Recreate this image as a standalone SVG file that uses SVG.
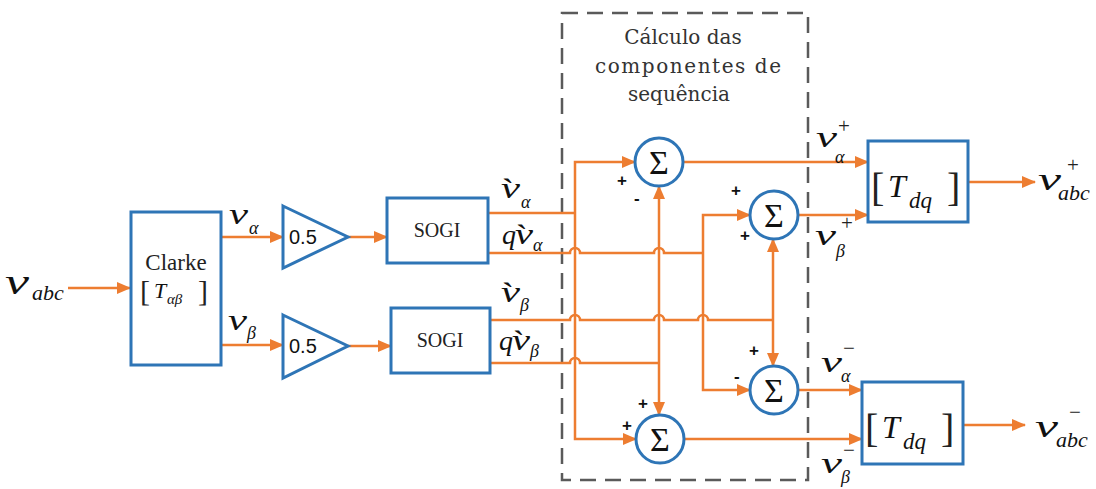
<svg xmlns="http://www.w3.org/2000/svg" width="1096" height="489" viewBox="0 0 1096 489">
<style>
.w{fill:none;stroke:#ED7D31;stroke-width:2.5}
.b{fill:#fff;stroke:#2E75B6;stroke-width:3}
.m{font-family:"Liberation Serif",serif;font-style:italic;fill:#111}
.t{font-family:"Liberation Serif",serif;fill:#222}
.s{font-family:"Liberation Sans",sans-serif;font-weight:bold;font-size:17px;fill:#111}
.sig{font-family:"Liberation Serif",serif;font-size:34px;fill:#111;text-anchor:middle}
</style>
<defs>
<marker id="ah" viewBox="0 0 14 12" refX="13" refY="6" markerWidth="14" markerHeight="12" markerUnits="userSpaceOnUse" orient="auto"><path d="M0,0 L14,6 L0,12 z" fill="#ED7D31"/></marker>
</defs>
<rect width="1096" height="489" fill="#fff"/>

<g id="box-sequence">
<rect x="562" y="13" width="246" height="467" fill="none" stroke="#5a5a5a" stroke-width="2.5" stroke-dasharray="16 9"/>
<text font-family="DejaVu Serif, serif" font-size="20" fill="#333" text-anchor="middle"><tspan x="683" y="44">Cálculo das</tspan><tspan x="688" y="73" textLength="186">componentes de</tspan><tspan x="679" y="101">sequência</tspan></text>
</g>

<g id="connectors">
<path class="w" marker-end="url(#ah)" d="M68,288 H130"/>
<path class="w" marker-end="url(#ah)" d="M222,237 H283"/>
<path class="w" marker-end="url(#ah)" d="M222,345 H283"/>
<path class="w" marker-end="url(#ah)" d="M348,237 H387"/>
<path class="w" marker-end="url(#ah)" d="M348,346 H391"/>
<path class="w" d="M488,213 H575"/>
<path class="w" d="M488,253 H570 a5,5 0 0 1 10,0 H654 a5,5 0 0 1 10,0 H703"/>
<path class="w" d="M490,320 H570 a5,5 0 0 1 10,0 H654 a5,5 0 0 1 10,0 H698 a5,5 0 0 1 10,0 H773"/>
<path class="w" d="M490,363 H570 a5,5 0 0 1 10,0 H659"/>
<path class="w" marker-end="url(#ah)" d="M575,213 V162 H635"/>
<path class="w" marker-end="url(#ah)" d="M575,213 V439 H636"/>
<path class="w" marker-end="url(#ah)" d="M659,363 V186"/>
<path class="w" marker-end="url(#ah)" d="M659,363 V415"/>
<path class="w" marker-end="url(#ah)" d="M703,253 V215 H750"/>
<path class="w" marker-end="url(#ah)" d="M703,253 V390 H750"/>
<path class="w" marker-end="url(#ah)" d="M773,320 V239"/>
<path class="w" marker-end="url(#ah)" d="M773,320 V366"/>
<path class="w" marker-end="url(#ah)" d="M683,162 H868"/>
<path class="w" marker-end="url(#ah)" d="M798,215 H868"/>
<path class="w" marker-end="url(#ah)" d="M798,390 H862"/>
<path class="w" marker-end="url(#ah)" d="M684,439 H862"/>
<path class="w" marker-end="url(#ah)" d="M968,182 H1035"/>
<path class="w" marker-end="url(#ah)" d="M963,425 H1025"/>
</g>

<g id="in-label">
<text class="m" x="5" y="294" font-size="36" textLength="24" lengthAdjust="spacingAndGlyphs">v</text>
<text class="m" x="32" y="300" font-size="22">abc</text>
</g>

<g id="clarke">
<rect class="b" x="131" y="212" width="90" height="153"/>
<text class="t" x="176" y="270" font-size="23" text-anchor="middle">Clarke</text>
<text class="t" x="140" y="301" font-size="30">[</text>
<text class="m" x="154" y="298" font-size="22">T</text>
<text class="m" x="167" y="304" font-size="15">αβ</text>
<text class="t" x="198" y="301" font-size="30">]</text>
<text class="m" x="229" y="224" font-size="30" textLength="19" lengthAdjust="spacingAndGlyphs">v</text>
<text class="m" x="249" y="234" font-size="18">α</text>
<text class="m" x="228" y="330" font-size="30" textLength="19" lengthAdjust="spacingAndGlyphs">v</text>
<text class="m" x="247" y="339" font-size="18">β</text>
</g>

<g id="gain1">
<polygon class="b" points="283,206 348,237 283,268"/>
<text x="289" y="244" font-family="Liberation Sans, sans-serif" font-size="20" fill="#111">0.5</text>
</g>
<g id="gain2">
<polygon class="b" points="283,315 348,346 283,378"/>
<text x="289" y="353" font-family="Liberation Sans, sans-serif" font-size="20" fill="#111">0.5</text>
</g>

<g id="sogi1">
<rect class="b" x="387" y="198" width="101" height="65"/>
<text class="t" x="437" y="237" font-size="20" text-anchor="middle">SOGI</text>
<text class="m" x="501" y="198" font-size="30" textLength="19" lengthAdjust="spacingAndGlyphs">v̀</text>
<text class="m" x="521" y="208" font-size="18">α</text>
<text class="m" x="502" y="244" font-size="28">q</text>
<text class="m" x="515" y="244" font-size="30" textLength="18" lengthAdjust="spacingAndGlyphs">v̀</text>
<text class="m" x="533" y="251" font-size="18">α</text>
</g>
<g id="sogi2">
<rect class="b" x="391" y="308" width="99" height="65"/>
<text class="t" x="440" y="347" font-size="20" text-anchor="middle">SOGI</text>
<text class="m" x="501" y="302" font-size="30" textLength="19" lengthAdjust="spacingAndGlyphs">v̀</text>
<text class="m" x="520" y="311" font-size="18">β</text>
<text class="m" x="499" y="350" font-size="28">q</text>
<text class="m" x="512" y="350" font-size="30" textLength="18" lengthAdjust="spacingAndGlyphs">v̀</text>
<text class="m" x="530" y="357" font-size="18">β</text>
</g>

<g id="sum1">
<circle class="b" cx="659" cy="162" r="24"/>
<text class="sig" x="659" y="174">Σ</text>
<text class="s" x="617" y="186">+</text>
<text class="s" x="634" y="204">-</text>
</g>
<g id="sum2">
<circle class="b" cx="774" cy="215" r="24"/>
<text class="sig" x="774" y="227">Σ</text>
<text class="s" x="731" y="196">+</text>
<text class="s" x="740" y="241">+</text>
</g>
<g id="sum3">
<circle class="b" cx="774" cy="390" r="24"/>
<text class="sig" x="774" y="402">Σ</text>
<text class="s" x="749" y="356">+</text>
<text class="s" x="734" y="382">-</text>
</g>
<g id="sum4">
<circle class="b" cx="660" cy="439" r="24"/>
<text class="sig" x="660" y="451">Σ</text>
<text class="s" x="638" y="409">+</text>
<text class="s" x="622" y="431">+</text>
</g>

<g id="tdq1">
<rect class="b" x="868" y="141" width="100" height="81"/>
<text class="t" x="871" y="201" font-size="40">[</text>
<text class="m" x="888" y="197" font-size="32">T</text>
<text class="m" x="909" y="208" font-size="23">dq</text>
<text class="t" x="947" y="201" font-size="40">]</text>
<text class="m" x="816" y="147" font-size="30" textLength="21" lengthAdjust="spacingAndGlyphs">v</text>
<text class="m" x="835" y="163" font-size="18">α</text>
<text class="t" x="838" y="133" font-size="21">+</text>
<text class="m" x="815" y="245" font-size="30" textLength="21" lengthAdjust="spacingAndGlyphs">v</text>
<text class="m" x="836" y="257" font-size="18">β</text>
<text class="t" x="841" y="230" font-size="21">+</text>
<text class="m" x="1038" y="190" font-size="32" textLength="23" lengthAdjust="spacingAndGlyphs">v</text>
<text class="m" x="1058" y="200" font-size="22">abc</text>
<text class="t" x="1067" y="172" font-size="21">+</text>
</g>

<g id="tdq2">
<rect class="b" x="862" y="382" width="101" height="82"/>
<text class="t" x="865" y="442" font-size="40">[</text>
<text class="m" x="882" y="438" font-size="32">T</text>
<text class="m" x="903" y="449" font-size="23">dq</text>
<text class="t" x="941" y="442" font-size="40">]</text>
<text class="m" x="821" y="372" font-size="30" textLength="21" lengthAdjust="spacingAndGlyphs">v</text>
<text class="m" x="841" y="382" font-size="18">α</text>
<text class="t" x="843" y="355" font-size="21">−</text>
<text class="m" x="821" y="473" font-size="30" textLength="21" lengthAdjust="spacingAndGlyphs">v</text>
<text class="m" x="841" y="483" font-size="18">β</text>
<text class="t" x="843" y="457" font-size="21">−</text>
<text class="m" x="1035" y="437" font-size="32" textLength="23" lengthAdjust="spacingAndGlyphs">v</text>
<text class="m" x="1056" y="447" font-size="22">abc</text>
<text class="t" x="1069" y="419" font-size="21">−</text>
</g>
</svg>
